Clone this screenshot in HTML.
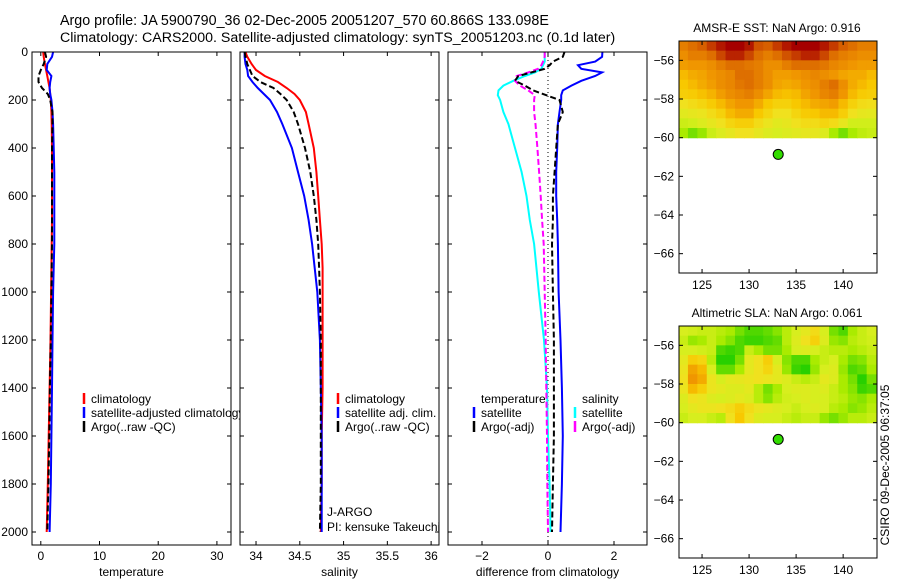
<!DOCTYPE html>
<html><head><meta charset="utf-8"><style>
body{margin:0;background:#fff}
svg{display:block;font-family:"Liberation Sans",sans-serif}
</style></head><body>
<svg id="s" width="900" height="580" viewBox="0 0 900 580">
<text x="60" y="25" font-size="14.3">Argo profile: JA 5900790_36 02-Dec-2005 20051207_570 60.866S 133.098E</text>
<text x="60" y="42" font-size="14.2">Climatology: CARS2000. Satellite-adjusted climatology: synTS_20051203.nc (0.1d later)</text>
<text x="777" y="32" font-size="12" text-anchor="middle">AMSR-E SST: NaN Argo: 0.916</text>
<text x="777" y="317" font-size="12" text-anchor="middle">Altimetric SLA: NaN Argo: 0.061</text>
<text transform="translate(889,465) rotate(-90)" font-size="12" text-anchor="middle">CSIRO 09-Dec-2005 06:37:05</text>
</svg>
<script>
// ---- profile data ----
const depths = [0,20,50,75,100,125,150,175,200,250,300,400,500,600,700,800,900,1000,1200,1400,1600,1800,2000];
const tempClim = [0.4,0.5,0.7,0.9,1.1,1.3,1.5,1.6,1.7,1.8,1.85,1.9,1.9,1.9,1.9,1.85,1.8,1.75,1.65,1.5,1.35,1.2,1.0];
const tempSat = [2.1,1.9,1.1,1.0,1.8,1.6,1.5,1.6,1.8,2.0,2.1,2.2,2.3,2.3,2.3,2.3,2.2,2.1,2.0,1.9,1.8,1.7,1.5];
const tempArgo = [0.7,0.9,0.5,0.0,-0.4,-0.4,0.2,1.2,1.6,2.0,2.0,1.9,1.9,1.9,1.9,1.9,1.85,1.8,1.7,1.55,1.45,1.3,1.1];
const salClim = [33.88,33.9,33.95,34.0,34.1,34.25,34.35,34.44,34.5,34.57,34.6,34.66,34.69,34.71,34.73,34.75,34.76,34.76,34.76,34.76,34.75,34.75,34.74];
const salSat = [33.87,33.87,33.88,33.9,33.91,33.96,34.02,34.09,34.16,34.24,34.3,34.41,34.48,34.55,34.6,34.64,34.67,34.7,34.73,34.74,34.75,34.75,34.75];
const salArgo = [33.87,33.88,33.9,33.93,33.96,34.05,34.2,34.28,34.35,34.43,34.48,34.56,34.62,34.66,34.69,34.71,34.72,34.73,34.74,34.74,34.74,34.74,34.73];
const diffDepths = [0,20,40,55,70,85,100,120,140,160,180,200,250,300,400,500,600,700,800,1000,1200,1400,1600,1800,2000];
const diffTempSat = [1.65,1.64,1.43,0.91,1.01,1.64,1.43,1.01,0.71,0.45,0.4,0.4,0.35,0.3,0.28,0.25,0.25,0.28,0.3,0.32,0.38,0.42,0.45,0.42,0.38];
const diffTempArgo = [0.5,0.45,0.15,0.05,-0.1,-0.5,-0.9,-1.0,-0.7,-0.45,-0.05,0.35,0.45,0.3,0.25,0.2,0.15,0.15,0.12,0.15,0.18,0.18,0.18,0.15,0.12];
const diffSalSat = [-0.1,-0.1,-0.1,-0.15,-0.2,-0.4,-0.7,-1.05,-1.35,-1.5,-1.52,-1.45,-1.35,-1.2,-1.0,-0.8,-0.65,-0.55,-0.42,-0.28,-0.12,-0.03,0.0,0.05,0.08];
const diffSalArgo = [-0.1,-0.1,-0.15,-0.2,-0.3,-0.6,-0.95,-1.0,-0.85,-0.6,-0.4,-0.42,-0.42,-0.38,-0.32,-0.27,-0.22,-0.18,-0.13,-0.1,-0.07,-0.05,-0.03,-0.02,0.0];
const depthTicks = [0,200,400,600,800,1000,1200,1400,1600,1800,2000];
const tempTicks = [0,10,20,30];
const salTicks = [34,34.5,35,35.5,36];
const salTickLabels = ["34","34.5","35","35.5","36"];
const diffTicks = [-2,0,2];
// ---- map data ----
const mapLons = [123,124,125,126,127,128,129,130,131,132,133,134,135,136,137,138,139,140,141,142,143];
const mapLats = [-55.25,-55.75,-56.25,-56.75,-57.25,-57.75,-58.25,-58.75,-59.25,-59.75];
const sstGrid = [
[0.88,0.9,0.92,0.95,0.98,1,1,0.98,0.93,0.92,0.95,0.98,1,1,1,0.98,0.95,0.92,0.9,0.88,0.88],
[0.86,0.88,0.88,0.9,0.94,0.97,0.97,0.94,0.9,0.88,0.9,0.93,0.95,0.97,0.97,0.94,0.9,0.88,0.87,0.86,0.86],
[0.84,0.85,0.85,0.86,0.88,0.9,0.9,0.89,0.88,0.86,0.86,0.88,0.9,0.9,0.9,0.89,0.87,0.86,0.85,0.84,0.84],
[0.8,0.82,0.83,0.85,0.86,0.87,0.9,0.9,0.88,0.86,0.84,0.84,0.85,0.86,0.87,0.86,0.85,0.83,0.82,0.82,0.8],
[0.78,0.8,0.82,0.84,0.86,0.87,0.89,0.9,0.88,0.86,0.83,0.82,0.83,0.85,0.86,0.88,0.9,0.86,0.82,0.8,0.78],
[0.76,0.77,0.79,0.81,0.84,0.86,0.87,0.88,0.86,0.83,0.8,0.79,0.8,0.83,0.85,0.87,0.88,0.85,0.8,0.77,0.76],
[0.7,0.72,0.74,0.77,0.8,0.83,0.85,0.85,0.82,0.78,0.75,0.75,0.78,0.8,0.82,0.83,0.84,0.8,0.75,0.72,0.71],
[0.64,0.66,0.68,0.72,0.75,0.8,0.82,0.82,0.78,0.74,0.7,0.7,0.74,0.77,0.78,0.8,0.8,0.76,0.7,0.66,0.65],
[0.56,0.58,0.62,0.66,0.7,0.74,0.76,0.76,0.72,0.68,0.64,0.66,0.7,0.72,0.72,0.74,0.72,0.66,0.58,0.58,0.58],
[0.45,0.3,0.4,0.56,0.62,0.66,0.7,0.7,0.66,0.62,0.6,0.62,0.64,0.66,0.66,0.62,0.45,0.3,0.45,0.52,0.55]];
const slaGrid = [
[0.6,0.58,0.55,0.55,0.5,0.45,0.3,0.2,0.2,0.25,0.35,0.5,0.6,0.65,0.72,0.6,0.3,0.2,0.45,0.55,0.6],
[0.55,0.4,0.45,0.55,0.45,0.35,0.2,0.15,0.15,0.2,0.25,0.5,0.62,0.7,0.75,0.62,0.4,0.35,0.5,0.55,0.58],
[0.6,0.6,0.58,0.55,0.2,0.15,0.2,0.55,0.45,0.3,0.3,0.45,0.6,0.62,0.6,0.55,0.5,0.5,0.45,0.5,0.55],
[0.65,0.76,0.74,0.5,0.1,0.1,0.3,0.65,0.7,0.76,0.6,0.35,0.2,0.2,0.45,0.55,0.6,0.45,0.3,0.35,0.5],
[0.68,0.83,0.8,0.6,0.25,0.25,0.45,0.65,0.7,0.74,0.65,0.4,0.15,0.1,0.4,0.6,0.62,0.4,0.2,0.25,0.45],
[0.7,0.85,0.82,0.68,0.6,0.65,0.66,0.68,0.7,0.68,0.65,0.62,0.55,0.5,0.55,0.65,0.62,0.45,0.3,0.1,0.3],
[0.68,0.8,0.76,0.68,0.65,0.62,0.62,0.65,0.5,0.3,0.45,0.6,0.62,0.62,0.6,0.62,0.55,0.45,0.35,0.15,0.2],
[0.62,0.7,0.68,0.62,0.6,0.62,0.65,0.62,0.5,0.35,0.5,0.58,0.6,0.62,0.6,0.6,0.55,0.5,0.4,0.35,0.45],
[0.6,0.65,0.68,0.68,0.7,0.72,0.76,0.72,0.68,0.65,0.62,0.6,0.55,0.6,0.62,0.6,0.5,0.45,0.35,0.4,0.5],
[0.55,0.6,0.6,0.55,0.5,0.7,0.78,0.7,0.62,0.6,0.6,0.55,0.5,0.55,0.55,0.4,0.3,0.4,0.5,0.5,0.55]];
const argoLon = [133.098];
const argoLat = [-60.866];
const lonTicks = [125,130,135,140];
const latTicks = [-56,-58,-60,-62,-64,-66];

const NS='http://www.w3.org/2000/svg';
const svg=document.getElementById('s');
function mk(tag,attrs,parent){const e=document.createElementNS(NS,tag);for(const k in attrs)e.setAttribute(k,attrs[k]);(parent||svg).appendChild(e);return e;}
const Y0=52, YS=0.24, YB=545;
const yD=d=>Y0+d*YS;

function panel(name,x0,x1,xmin,xmax){
  const g=mk('g',{});
  
  
  const bg=mk('rect',{x:x0,y:Y0,width:x1-x0,height:YB-Y0,fill:'#fff'},g);
  
  
  return {g,x:v=>x0+(v-xmin)/(xmax-xmin)*(x1-x0),x0,x1};
}
function frame(p,ticks,labels,xlabel,name){
  const g=p.g;
  const f=mk('rect',{x:p.x0,y:Y0,width:p.x1-p.x0,height:YB-Y0,fill:'none',stroke:'#000','stroke-width':1},g);
  
  
  ticks.forEach((t,i)=>{
    const X=p.x(t);
    mk('line',{x1:X,y1:YB,x2:X,y2:YB-4,stroke:'#000'},g);
    mk('line',{x1:X,y1:Y0,x2:X,y2:Y0+4,stroke:'#000'},g);
    const tl=mk('text',{x:X,y:YB+15,'font-size':12,'text-anchor':'middle'},g);
    tl.textContent=labels[i];
    
    
  });
  depthTicks.forEach(d=>{
    mk('line',{x1:p.x0,y1:yD(d),x2:p.x0+4,y2:yD(d),stroke:'#000'},g);
    mk('line',{x1:p.x1,y1:yD(d),x2:p.x1-4,y2:yD(d),stroke:'#000'},g);
  });
  const xl=mk('text',{x:(p.x0+p.x1)/2,y:YB+31,'font-size':12,'text-anchor':'middle'},g);
  xl.textContent=xlabel;
  
  
}
function line(p,xs,ds,color,dash,name){
  const pts=xs.map((v,i)=>p.x(v).toFixed(1)+','+yD(ds[i]).toFixed(1)).join(' ');
  const l=mk('polyline',{points:pts,fill:'none',stroke:color,'stroke-width':2,'stroke-dasharray':dash||'none'},p.g);
  
  
}
function legend(p,x,y,color,label,name){
  const m=mk('line',{x1:x,y1:y-10,x2:x,y2:y+1,stroke:color,'stroke-width':2.5},p.g);
  
  
  if(label!==null){
    const t=mk('text',{x:x+7,y:y,'font-size':12},p.g);
    t.textContent=label;
    
    
  }
}
function txt(p,x,y,s,name){
  const t=mk('text',{x:x,y:y,'font-size':12},p.g);
  t.textContent=s;
  
  
}

// Panel 1: temperature
const p1=panel('temperature-panel',32,231,-1.5,32.4);
line(p1,tempClim,depths,'#f00',null,'temp-climatology-line');
line(p1,tempSat,depths,'#00f',null,'temp-satellite-line');
line(p1,tempArgo,depths,'#000','6,3','temp-argo-line');
legend(p1,84,403,'#f00','climatology','legend-climatology');
legend(p1,84,417,'#00f','satellite-adjusted climatology','legend-satellite-adjusted');
legend(p1,84,431,'#000','Argo(..raw -QC)','legend-argo');
frame(p1,tempTicks,tempTicks.map(String),'temperature','temperature-panel');
depthTicks.forEach(d=>{
  const t=mk('text',{x:28,y:yD(d)+4,'font-size':12,'text-anchor':'end'});
  t.textContent=String(d);
  
  
});

// Panel 2: salinity
const p2=panel('salinity-panel',240,439,33.817,36.09);
line(p2,salClim,depths,'#f00',null,'sal-climatology-line');
line(p2,salSat,depths,'#00f',null,'sal-satellite-line');
line(p2,salArgo,depths,'#000','6,3','sal-argo-line');
legend(p2,338,403,'#f00','climatology','legend-climatology');
legend(p2,338,417,'#00f','satellite adj. clim.','legend-satellite-adj');
legend(p2,338,431,'#000','Argo(..raw -QC)','legend-argo');
txt(p2,327,516,'J-ARGO','program-label');
txt(p2,327,531,'PI: kensuke Takeuchi','pi-label');
frame(p2,salTicks,salTickLabels,'salinity','salinity-panel');

// Panel 3: difference
const p3=panel('difference-panel',448,647,-3.03,3.0);
const z=mk('line',{x1:p3.x(0),y1:Y0,x2:p3.x(0),y2:YB,stroke:'#000','stroke-width':1,'stroke-dasharray':'1,3'},p3.g);


line(p3,diffSalSat,diffDepths,'#0ff',null,'diff-sal-satellite-line');
line(p3,diffSalArgo,diffDepths,'#f0f','6,3','diff-sal-argo-line');
line(p3,diffTempSat,diffDepths,'#00f',null,'diff-temp-satellite-line');
line(p3,diffTempArgo,diffDepths,'#000','6,3','diff-temp-argo-line');
txt(p3,481,403,'temperature','legend-temperature-header');
legend(p3,474,417,'#00f','satellite','legend-temp-satellite');
legend(p3,474,431,'#000','Argo(-adj)','legend-temp-argo');
txt(p3,582,403,'salinity','legend-salinity-header');
legend(p3,575,417,'#0ff','satellite','legend-sal-satellite');
legend(p3,575,431,'#f0f','Argo(-adj)','legend-sal-argo');
frame(p3,diffTicks,diffTicks.map(v=>v<0?'\u2212'+(-v):String(v)),'difference from climatology','difference-panel');

// colormap
const stops=[[0,[0,200,0]],[0.25,[100,220,0]],[0.45,[170,235,0]],[0.6,[215,238,30]],[0.7,[240,225,30]],[0.78,[248,200,0]],[0.85,[240,150,0]],[0.92,[215,95,0]],[0.97,[185,35,0]],[1,[165,0,0]]];
function cmap(v){v=Math.max(0,Math.min(1,v));for(let i=1;i<stops.length;i++){if(v<=stops[i][0]){const a=stops[i-1],b=stops[i],t=(v-a[0])/(b[0]-a[0]);const c=a[1].map((q,k)=>Math.round(q+(b[1][k]-q)*t));return 'rgb('+c+')';}}return 'rgb(165,0,0)';}

function mapPanel(name,grid,oy){
  const L=679,R=877,T=41+oy,B=273+oy;
  const lx=v=>L+(v-122.55)/(143.6-122.55)*(R-L);
  const ly=v=>T+(-55-v)/12*(B-T);
  const g=mk('g',{});
  
  
  const cid='clip'+oy;
  const cp=mk('clipPath',{id:cid},g);mk('rect',{x:L,y:T,width:R-L,height:B-T},cp);
  const hg=mk('g',{'clip-path':'url(#'+cid+')'},g);
  
  
  grid.forEach((row,r)=>row.forEach((v,c)=>{
    const x0=lx(mapLons[c]-0.5),x1=lx(mapLons[c]+0.5),y0=ly(mapLats[r]+0.25),y1=ly(mapLats[r]-0.25);
    const cell=mk('rect',{x:x0,y:y0,width:x1-x0+0.6,height:y1-y0+0.6,fill:cmap(v)},hg);
    
    
  }));
  const f=mk('rect',{x:L,y:T,width:R-L,height:B-T,fill:'none',stroke:'#000'},g);
  
  
  lonTicks.forEach(t=>{
    const X=lx(t);
    mk('line',{x1:X,y1:T,x2:X,y2:T+4,stroke:'#000'},g);
    mk('line',{x1:X,y1:B,x2:X,y2:B-4,stroke:'#000'},g);
    const tl=mk('text',{x:X,y:B+16,'font-size':12,'text-anchor':'middle'},g);
    tl.textContent=String(t);
    
    
  });
  latTicks.forEach(t=>{
    const Y=ly(t);
    mk('line',{x1:L,y1:Y,x2:L+4,y2:Y,stroke:'#000'},g);
    mk('line',{x1:R,y1:Y,x2:R-4,y2:Y,stroke:'#000'},g);
    const tl=mk('text',{x:L-5,y:Y+4,'font-size':12,'text-anchor':'end'},g);
    tl.textContent='\u2212'+(-t);
    
    
  });
  argoLon.forEach((lo,i)=>{
    const d=mk('circle',{cx:lx(lo),cy:ly(argoLat[i]),r:5,fill:'#33dd00',stroke:'#000','stroke-width':1},g);
    
    
  });
}
mapPanel('sst-map',sstGrid,0);
mapPanel('sla-map',slaGrid,285);
</script>
</body></html>
